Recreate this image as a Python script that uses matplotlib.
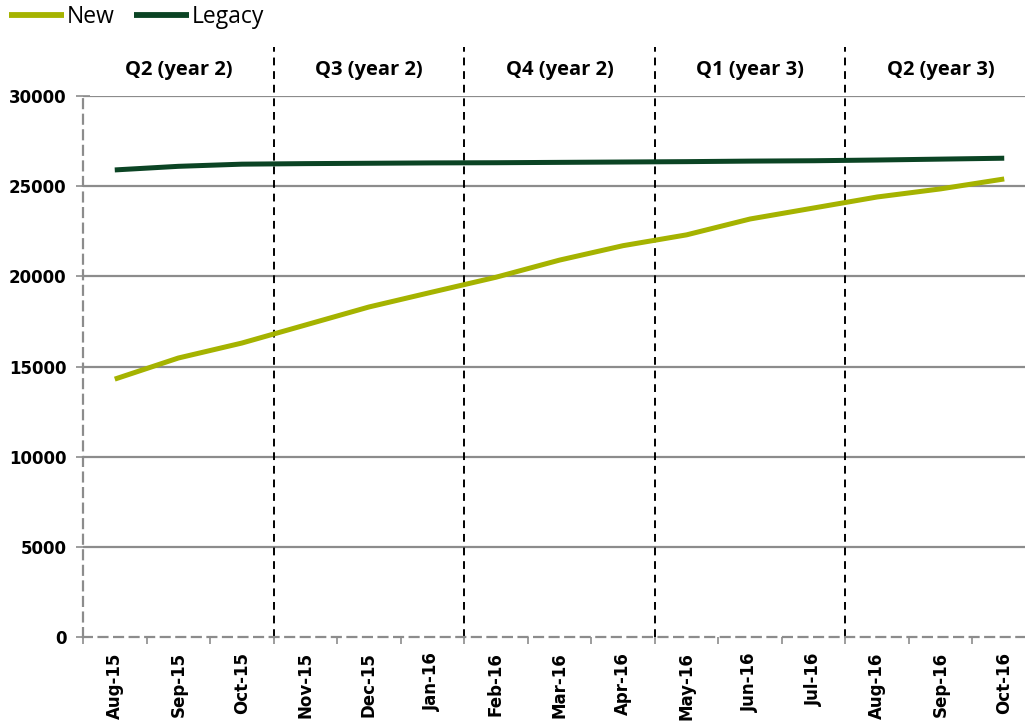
import matplotlib
matplotlib.use("Agg")
import matplotlib.pyplot as plt
import matplotlib.transforms as mtransforms
import numpy as np

months = ["Aug-15", "Sep-15", "Oct-15", "Nov-15", "Dec-15", "Jan-16", "Feb-16",
          "Mar-16", "Apr-16", "May-16", "Jun-16", "Jul-16", "Aug-16", "Sep-16", "Oct-16"]
new_vals = [14300, 15470, 16300, 17300, 18300, 19130, 19950, 20900, 21700, 22300,
            23180, 23790, 24400, 24850, 25400]
legacy_vals = [25900, 26100, 26220, 26250, 26270, 26290, 26300, 26320, 26340, 26360,
               26390, 26410, 26450, 26500, 26550]
quarters = ["Q2 (year 2)", "Q3 (year 2)", "Q4 (year 2)", "Q1 (year 3)", "Q2 (year 3)"]
y_ticks = [0, 5000, 10000, 15000, 20000, 25000, 30000]

fig = plt.figure(figsize=(10.25, 7.24), dpi=100)
ax = fig.add_axes([83/1025, 87/724, 953/1025, 541/724])

x = np.arange(len(months))
ax.plot(x, new_vals, color="#a5b300", lw=3.6, solid_capstyle="butt", zorder=3, label="New")
ax.plot(x, legacy_vals, color="#0b4424", lw=3.6, solid_capstyle="butt", zorder=3, label="Legacy")

ax.set_xlim(-0.5, len(months) - 0.5)
ax.set_ylim(0, 30000)

for yv in y_ticks[1:]:
    ax.axhline(yv, color="#8c8c8c", lw=1.6, zorder=1)

for s in ["top", "right"]:
    ax.spines[s].set_visible(False)
for s in ["left", "bottom"]:
    ax.spines[s].set_color("#8c8c8c")
    ax.spines[s].set_linestyle((0, (4, 3)))
    ax.spines[s].set_linewidth(1.6)

ax.set_yticks(y_ticks)
ax.set_yticklabels([str(v) for v in y_ticks], fontsize=12, fontweight="bold", family="DejaVu Sans")
ax.tick_params(axis="y", direction="inout", length=10, width=1.2, color="#8c8c8c", pad=7)

ax.set_xticks(x)
ax.set_xticklabels(months, rotation=90, fontsize=12, fontweight="bold", family="DejaVu Sans")
ax.tick_params(axis="x", which="major", length=0, pad=11)
ax.set_xticks(np.arange(-0.5, len(months)), minor=True)
ax.tick_params(axis="x", which="minor", length=5, width=1.2, color="#8c8c8c")

trans = mtransforms.blended_transform_factory(ax.transData, ax.transAxes)
for i in range(1, len(quarters)):
    xb = 3 * i - 0.5
    ax.plot([xb, xb], [0, 1.09], transform=trans, color="black", lw=1.4,
            linestyle=(0, (4, 3)), clip_on=False, zorder=2)
for i, q in enumerate(quarters):
    ax.text(3 * i + 1, 1.048, q, transform=trans, ha="center", va="center",
            fontsize=14.5, fontweight="bold", family="Open Sans")

leg = fig.legend(loc="upper left", bbox_to_anchor=(-0.011, 1.021), ncol=2, frameon=False,
                 prop={"family": "Open Sans", "size": 16.5}, handlelength=2.4,
                 handletextpad=0.12, columnspacing=0.85)
for l in leg.get_lines():
    l.set_linewidth(4.2)

fig.savefig("out.png", dpi=100)
